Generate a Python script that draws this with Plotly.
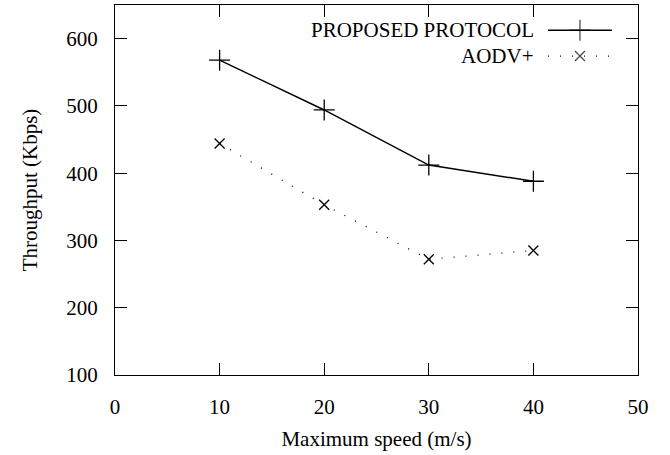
import plotly.graph_objects as go

speed = [10, 20, 30, 40]
proposed = [568, 494, 412, 388]
aodv = [444, 353, 272, 285]
series_names = ["PROPOSED PROTOCOL", "AODV+"]
x_ticks = [0, 10, 20, 30, 40, 50]
y_ticks = [100, 200, 300, 400, 500, 600]

FONT = "Liberation Serif, Times New Roman, serif"
FS = 21
DOT = "1px,11px"

fig = go.Figure()
fig.add_trace(go.Scatter(x=speed, y=proposed, mode="lines+markers", name=series_names[0],
                         line=dict(color="black", width=1.5),
                         marker=dict(symbol="cross-thin-open", size=15, line=dict(color="#222", width=1.3)),
                         showlegend=False))
fig.add_trace(go.Scatter(x=speed, y=aodv, mode="lines+markers", name=series_names[1],
                         line=dict(color="black", width=1.3, dash=DOT),
                         marker=dict(symbol="x-thin-open", size=10, line=dict(color="#222", width=1.3)),
                         showlegend=False))

# custom gnuplot-style key (text left of sample) on an overlay axis in [0,1]
lx0, lxm, lx1 = 0.828, 0.889, 0.950
rows = [0.932, 0.862]
fig.add_trace(go.Scatter(x=[lx0, lxm, lx1], y=[rows[0]] * 3, xaxis="x2", yaxis="y2", mode="lines+markers",
                         line=dict(color="black", width=1.5),
                         marker=dict(symbol="cross-thin-open", size=[0, 15, 0], line=dict(color="#222", width=1.3)),
                         showlegend=False, hoverinfo="skip"))
fig.add_trace(go.Scatter(x=[lx0, lxm, lx1], y=[rows[1]] * 3, xaxis="x2", yaxis="y2", mode="lines+markers",
                         line=dict(color="black", width=1.3, dash=DOT),
                         marker=dict(symbol="x-thin-open", size=[0, 10, 0], line=dict(color="#222", width=1.3)),
                         showlegend=False, hoverinfo="skip"))
for name, yy in zip(series_names, rows):
    fig.add_annotation(x=0.805, y=yy, xref="paper", yref="paper", text=name, showarrow=False,
                       xanchor="right", yanchor="middle", font=dict(family=FONT, size=FS, color="black"))

axis_common = dict(showline=True, linecolor="black", linewidth=1.2, mirror="ticks", ticks="inside",
                   ticklen=12, tickcolor="black", tickwidth=1, showgrid=False, zeroline=False,
                   tickfont=dict(family=FONT, size=FS, color="black"))

fig.update_layout(
    width=670, height=455,
    margin=dict(l=115, r=32, t=5, b=80),
    plot_bgcolor="white", paper_bgcolor="white",
    font=dict(family=FONT, size=FS, color="black"),
    xaxis=dict(range=[0, 50], tickvals=x_ticks, ticklabelstandoff=13,
               title=dict(text="Maximum speed (m/s)", font=dict(family=FONT, size=FS), standoff=13),
               **axis_common),
    yaxis=dict(range=[100, 650], tickvals=y_ticks, ticklabelstandoff=12,
               title=dict(text="Throughput (Kbps)", font=dict(family=FONT, size=FS), standoff=22),
               **axis_common),
    xaxis2=dict(range=[0, 1], overlaying="x", anchor="y2", visible=False, domain=[0, 1]),
    yaxis2=dict(range=[0, 1], overlaying="y", anchor="x2", visible=False),
)

fig.write_html("out.html", config={"displayModeBar": False},
               post_script="document.body.style.margin='0';")
